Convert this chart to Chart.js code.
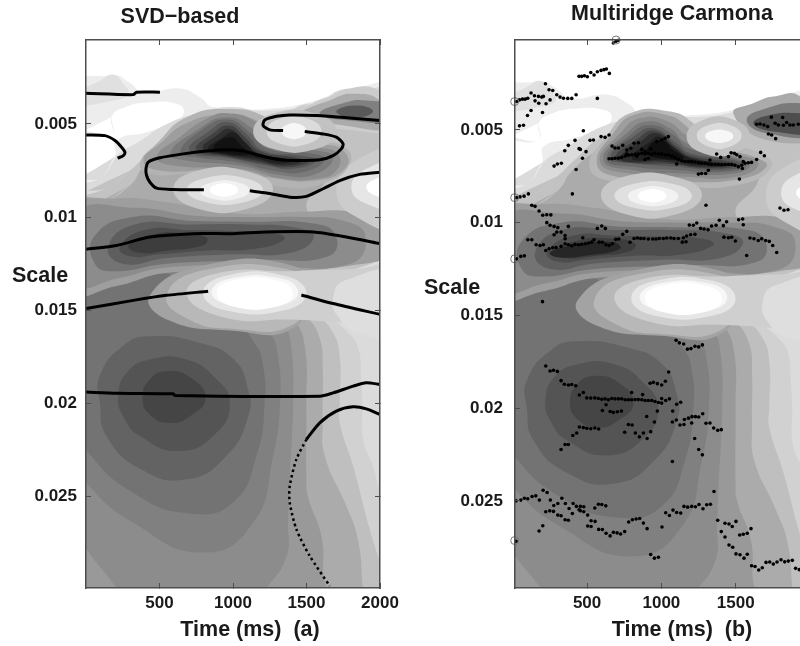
<!DOCTYPE html>
<html>
<head>
<meta charset="utf-8">
<title>SVD-based and Multiridge Carmona ridges</title>
<script src="https://cdn.jsdelivr.net/npm/chart.js@4/dist/chart.umd.js"></script>
<style>
  html, body { margin: 0; background: #fff; overflow: hidden; width: 800px; height: 646px; }
  canvas { position: absolute; top: 0; filter: blur(0.6px); }
  .lbl { position: absolute; font: bold 21.5px "Liberation Sans", sans-serif; color: #1a1a1a; white-space: pre; transform: translate(-50%, -50%); filter: blur(0.4px); }
</style>
</head>
<body>
<canvas id="panelA" width="400" height="646" style="left:0"></canvas>
<canvas id="panelB" width="430" height="646" style="left:400px"></canvas>
<div class="lbl" style="left:180px;top:16px">SVD−based</div>
<div class="lbl" style="left:672px;top:13px">Multiridge Carmona</div>
<div class="lbl" style="left:40px;top:275px">Scale</div>
<div class="lbl" style="left:452px;top:287px">Scale</div>
<div class="lbl" style="left:250px;top:629px">Time (ms)  (a)</div>
<div class="lbl" style="left:682px;top:629px">Time (ms)  (b)</div>
<script>
// all pairs are [time in ms, scale x 1000]
const timeTicksA = [500, 1000, 1500, 2000];
const timeTicksB = [500, 1000, 1500];
const scaleTicks = [0.005, 0.01, 0.015, 0.02, 0.025];

// filled contours of the time-scale map, lightest first, level = darkness in %
const fieldLevels = [7, 12, 0, 14, 24, 33, 18, 25, 33, 40, 45, 50, 55, 61, 67, 73, 38, 45, 55, 63, 70, 76, 36, 28, 19, 13, 10, 3, 0, 20, 10, 0];
const fieldContours = [
  [[-100,3.2],[186,2.4],[290,2.75],[390,3.3],[639,3.1],[775,3.57],[865,4.1],[1228,4.2],[1567,3.75],[1771,3.2],[2100,3.3],[2100,31],[-100,31]],
  [[-60,3.4],[95,2.68],[186,2.36],[254,2.85],[288,3.4],[186,3.75],[-60,3.93]],
  [[-60,5.54],[174,5.54],[174,4.64],[254,4.14],[435,3.84],[616,3.93],[666,4.3],[616,4.86],[412,5.45],[208,5.89],[197,6.79],[140,7.15],[-60,7.53]],
  [[-100,8.2],[95,7.9],[210,6.7],[370,5.9],[550,5],[780,4.4],[975,4.1],[1230,4.3],[1570,3.9],[1771,3.4],[2100,3.6],[2100,31],[-100,31]],
  [[-100,9],[150,8.4],[300,7.5],[420,6.6],[600,5.4],[950,4.5],[1350,4.8],[1750,4.3],[2100,4.5],[2100,12],[-100,12]],
  [[-100,10],[100,9.3],[300,8.3],[400,7.2],[600,6],[950,5],[1400,5.8],[1650,6.5],[1650,7.8],[1500,9.5],[1700,10.5],[2100,11],[2100,12],[-100,12]],
  [[-200,11],[1300,12],[1600,15],[1771,16.1],[1850,17],[1870,18.5],[1880,20],[1884,21.9],[1952,23.36],[2000,24.6],[2150,26.5],[2150,31],[-200,31]],
  [[-200,11],[1300,12.5],[1550,15],[1680,16.2],[1726,17.5],[1726,20],[1726,21.04],[1817,23.36],[1930,26.75],[2000,28.5],[2100,31],[-200,31]],
  [[-200,11],[1250,13],[1500,15.3],[1590,16.5],[1610,18],[1610,21],[1624,22.8],[1771,25.5],[1850,27.3],[1884,29.9],[1900,31],[-200,31]],
  [[-200,11],[1200,13],[1420,15.5],[1490,17],[1499,20],[1499,24],[1510,25],[1601,27.1],[1613,29],[1613,31],[-200,31]],
  [[-200,11],[1150,13],[1350,15.7],[1400,17.2],[1409,20],[1400,22],[1386,24],[1375,26.4],[1364,28.2],[1228,29.9],[1100,31],[300,31],[208,29.9],[0,27.8],[-200,25.5]],
  [[-100,11],[900,13],[1250,16.2],[1307,17.5],[1320,20],[1273,22.8],[1137,26.4],[797,28],[322,26.4],[0,24.25],[-200,22]],
  [[-100,12],[900,14.5],[1150,16.8],[1205,18],[1215,20],[1160,22.8],[1001,25.3],[707,25.9],[322,24.8],[0,22.5],[-200,20]],
  [[95,20],[95,18.5],[254,16.9],[435,16.4],[775,16.75],[1001,17.6],[1103,19.25],[1103,20.7],[956,22.8],[684,24.07],[367,23.5],[140,21.75]],
  [[220,19.6],[276,18.36],[435,17.64],[684,17.64],[888,18.7],[978,20],[888,21.57],[639,22.55],[367,21.75],[254,20.7]],
  [[385,19.7],[435,18.7],[548,18.27],[707,18.6],[813,19.7],[707,20.68],[571,21.04],[435,20.6]],
  [[-100,9.5],[208,9],[548,9.2],[1000,9.8],[1500,9.7],[1800,9.7],[2100,10.3],[2100,11.8],[1800,12.6],[1200,12.9],[548,13],[208,13.7],[-100,14]],
  [[-50,9.8],[322,9.5],[700,9.9],[1100,10],[1500,10],[1750,10.2],[1900,11],[1800,12.5],[1200,12.6],[550,12.7],[208,13.3],[-50,13.6]],
  [[60,11],[322,10],[700,10.2],[1100,10.25],[1550,10.35],[1700,11],[1650,12.1],[1200,12.3],[550,12.5],[200,12.9],[60,12.5]],
  [[150,11.6],[330,10.4],[700,10.4],[1100,10.4],[1450,10.6],[1550,11.1],[1400,11.9],[1000,12],[550,12.2],[250,12.5]],
  [[230,11.6],[400,10.7],[700,10.7],[1000,10.75],[1300,10.9],[1350,11.2],[1150,11.7],[800,11.8],[500,12],[300,12.1]],
  [[290,11.5],[450,10.95],[650,10.85],[820,11.1],[800,11.5],[550,11.8],[350,11.9]],
  [[435,14.2],[800,12.6],[1400,12.6],[1500,14],[1400,16],[1000,16.1],[550,15.5]],
  [[548,14.2],[800,12.85],[1400,12.85],[1500,14],[1400,15.8],[1000,16],[700,15.5]],
  [[684,14.1],[900,13],[1400,12.9],[1800,12.8],[2150,12.8],[2150,15.9],[1800,15.7],[1400,15.5],[950,15.4]],
  [[1680,14.4],[1760,13.4],[2150,13.1],[2150,16.3],[1850,16.2],[1720,15.4]],
  [[797,14.07],[950,13.15],[1350,13.15],[1499,14.1],[1350,15],[950,15]],
  [[854,14.05],[980,13.3],[1330,13.3],[1443,14.05],[1330,14.7],[980,14.7]],
  [[888,14.05],[1000,13.4],[1300,13.4],[1409,14.1],[1300,14.8],[1000,14.8]],
  [[1703,8.57],[1839,6.96],[2130,6.61],[2130,10.5],[1839,10]],
  [[1805,8.4],[1907,7.41],[2130,7.14],[2130,9.46],[1907,9.29]],
  [[1907,8.39],[2000,7.86],[2130,7.68],[2130,8.93],[2000,8.93]]
];

// dark blob, tail and bright spot near the top, they differ per panel
const upperLevelsA = [20, 33, 50, 65, 30, 38, 45, 52, 59, 66, 74, 82, 88, 93, 24, 14, 3];
const upperContoursA = [
  [[1409,4.29],[1590,3.75],[1771,3.12],[2000,3.21],[2130,4.46],[2130,5.36],[1726,5.27],[1454,5]],
  [[1454,4.55],[1681,3.66],[1817,3.39],[2000,3.75],[2130,5.18],[1681,5]],
  [[1590,4.46],[1771,3.84],[1907,3.75],[2130,4.1],[2130,4.82],[1794,4.82]],
  [[1703,4.37],[1817,4.02],[1952,4.29],[1862,4.64]],
  [[367,7.14],[480,6.07],[684,4.64],[978,4.2],[1228,4.64],[1341,5.45],[1567,5.89],[1760,6.25],[1794,7.14],[1635,8.13],[1341,8.39],[1001,7.5],[684,7.68],[435,7.68]],
  [[390,6.96],[503,6.07],[684,4.96],[956,4.52],[1205,4.96],[1296,5.7],[1590,6.07],[1749,6.43],[1771,7.32],[1567,8.04],[1228,7.86],[888,7.5],[503,7.5]],
  [[480,6.79],[639,5.71],[820,4.73],[967,4.43],[1160,4.91],[1284,5.89],[1567,6.25],[1714,6.61],[1703,7.5],[1567,7.95],[1341,7.95],[1046,7.41],[593,7.23]],
  [[571,6.6],[752,5.36],[956,4.64],[1137,5.27],[1273,6.25],[1567,6.43],[1681,6.79],[1567,7.68],[1341,7.77],[1046,7.23],[684,6.96]],
  [[639,6.52],[797,5.27],[967,4.77],[1114,5.45],[1239,6.34],[1522,6.57],[1624,6.88],[1499,7.54],[1296,7.54],[1024,7.05],[752,6.79]],
  [[707,6.43],[843,5.36],[967,4.91],[1092,5.54],[1205,6.43],[1454,6.7],[1567,6.96],[1409,7.41],[1228,7.23],[1001,6.88]],
  [[752,6.39],[865,5.5],[974,5.09],[1080,5.71],[1182,6.46],[1409,6.79],[1522,7],[1375,7.32],[1194,7.11],[978,6.79]],
  [[797,6.34],[888,5.63],[978,5.27],[1069,5.89],[1160,6.52],[1364,6.88],[1465,7.05],[1341,7.23],[1160,6.96],[956,6.7]],
  [[831,6.37],[933,5.71],[1001,5.45],[1092,6.07],[1171,6.61],[1341,6.84],[1409,7],[1296,7.11],[1137,6.82],[956,6.66]],
  [[865,6.34],[978,5.71],[1069,6.25],[1114,6.61],[978,6.61]],
  [[1137,5.4],[1270,4.46],[1570,4.46],[1703,5.4],[1570,6.34],[1270,6.34]],
  [[1228,5.4],[1320,4.73],[1510,4.73],[1601,5.4],[1510,6.07],[1320,6.07]],
  [[1330,5.4],[1370,5.04],[1460,5.04],[1499,5.4],[1460,5.75],[1370,5.75]]
];
const upperLevelsB = [85, 33, 52, 70, 28, 38, 45, 52, 59, 66, 74, 82, 88, 94, 24, 14, 3];
const upperContoursB = [
  [[251,11.59],[408,11.23],[677,11.05],[722,11.41],[498,11.77],[298,11.86]],
  [[1484,4.1],[1619,3.56],[1753,3.2],[1933,3.2],[2067,5.18],[1708,5.54]],
  [[1574,4.46],[1708,3.83],[1933,3.56],[2067,3.92],[2067,5.18],[1708,5.18]],
  [[1619,4.64],[1731,4.19],[1933,4.1],[2067,4.28],[2067,5.09],[1753,5.09]],
  [[516,7],[632,5.36],[789,4.1],[1058,4.01],[1215,4.64],[1305,5.54],[1641,6.17],[1742,6.99],[1507,7.98],[1036,7.98],[677,7.8]],
  [[565,6.8],[677,5.18],[812,4.19],[1036,4.19],[1170,4.82],[1260,5.72],[1619,6.44],[1708,6.99],[1484,7.71],[1036,7.71],[700,7.53]],
  [[587,6.71],[722,5.18],[856,4.37],[1047,4.55],[1182,5.36],[1484,6.26],[1652,6.81],[1507,7.53],[1148,7.53],[789,7.35]],
  [[610,6.62],[767,5.18],[901,4.55],[1058,4.91],[1170,5.72],[1484,6.44],[1596,6.9],[1484,7.35],[1148,7.35],[812,7.17]],
  [[632,6.59],[789,5.27],[924,4.73],[1081,5.27],[1182,5.99],[1484,6.53],[1574,6.9],[1439,7.26],[1125,7.17],[812,6.99]],
  [[655,6.53],[812,5.36],[946,4.91],[1103,5.72],[1193,6.26],[1484,6.62],[1552,6.9],[1395,7.17],[1103,6.99],[812,6.8]],
  [[688,6.48],[834,5.51],[957,5.04],[1103,5.9],[1204,6.41],[1462,6.71],[1518,6.9],[1327,7.08],[1058,6.84],[789,6.77]],
  [[722,6.44],[857,5.63],[969,5.18],[1103,6.08],[1215,6.53],[1439,6.8],[1484,6.9],[1260,6.99],[1013,6.71],[767,6.71]],
  [[812,6.3],[924,5.63],[980,5.36],[1092,5.99],[1182,6.48],[1350,6.77],[1260,6.9],[1036,6.62],[812,6.62]],
  [[901,6.17],[991,5.54],[1081,6.08],[1148,6.53],[991,6.53]],
  [[1170,5.36],[1280,4.46],[1490,4.46],[1596,5.36],[1490,6.26],[1280,6.26]],
  [[1238,5.3],[1320,4.73],[1460,4.73],[1540,5.3],[1460,5.9],[1320,5.9]],
  [[1294,5.33],[1340,5.04],[1440,5.04],[1484,5.33],[1440,5.63],[1340,5.63]]
];

// bright spot under the dark blob, painted last so it bites into it
const brightLevels = [22, 12, 5, 0];
const brightContours = [
  [[593,8.5],[760,7.5],[1100,7.55],[1273,8.5],[1100,9.55],[760,9.55]],
  [[684,8.55],[815,7.9],[1075,7.9],[1205,8.55],[1075,9.2],[815,9.2]],
  [[775,8.58],[860,8.13],[1030,8.13],[1114,8.58],[1030,9.02],[860,9.02]],
  [[843,8.55],[890,8.25],[990,8.25],[1035,8.55],[990,8.84],[890,8.84]]
];

// panel (a) ridges
const ridgesA = [
  [[0,3.36],[322,3.43],[344,3.3],[503,3.3]],
  [[0,5.59],[129,5.63],[197,5.89],[242,6.25],[265,6.52],[254,6.7],[215,6.84]],
  [[802,8.54],[593,8.52],[480,8.45],[435,8.13],[412,7.77],[408,7.41],[424,7.05],[503,6.82],[661,6.61],[820,6.46],[956,6.39],[1069,6.46],[1182,6.7],[1318,6.93],[1454,6.96],[1590,6.93],[1681,6.7],[1737,6.34],[1749,6.07],[1703,5.71],[1613,5.54],[1488,5.41]],
  [[1341,5.36],[1250,5.32],[1205,5.09],[1216,4.79],[1296,4.59],[1386,4.52],[1567,4.55],[1794,4.68],[2000,4.82]],
  [[1114,8.59],[1228,8.71],[1386,8.93],[1499,8.89],[1613,8.48],[1726,8.04],[1862,7.71],[2000,7.59]],
  [[0,11.73],[208,11.52],[435,11.07],[729,10.89],[1001,10.89],[1228,10.8],[1545,10.8],[1771,11.07],[2000,11.43]],
  [[0,14.91],[322,14.47],[548,14.2],[831,13.98]],
  [[1465,14.18],[1681,14.64],[2000,15.22]],
  [[0,19.39],[208,19.45],[593,19.48],[605,19.57],[1590,19.61],[1681,19.43],[1817,19.07],[1907,18.89],[2000,18.98]],
  [[2000,20.59],[1907,20.29],[1817,20.18],[1703,20.41],[1590,21.04],[1499,21.93]]
];
const dottedRidgeA = [[1499,21.93],[1431,23],[1386,24.43],[1386,25.32],[1431,26.75],[1522,28.18],[1658,29.79]];

// panel (b) ridge points
const edgeCirclesB = [[13,3.47],[13,8.65],[13,11.95],[695,0.15],[13,27.14]];
const pointsTopB = [[677,0.31],[695,0.22],[711,0.16],[446,2.11],[464,2.11],[482,2.08],[502,2.13],[525,1.9],[547,2.04],[569,1.86],[594,1.79],[614,1.75],[630,1.71],[650,1.95],
  [27,3.47],[45,3.38],[65,3.34],[83,3.34],[101,3.29],[123,3.01],[146,3.16],[150,3.43],[173,3.19],[175,3.56],[195,3.23],[206,3.19],[224,3.59],[251,3.38],[200,4.06],[123,3.95],[99,4.22],[220,2.51],[244,2.83],[269,2.87],[296,3.1],[318,3.23],[341,3.29],[370,3.3],[397,3.3],[426,3.1],[569,3.3],[45,4.78],[72,4.75],
  [278,6.95],[300,6.84],[327,6.8],[350,6.12],[374,5.83],[419,5.56],[426,7.13],[446,6.01],[455,6.05],[469,6.53],[475,5.04],[493,6.17],[520,5.56],[543,5.54],[594,5.36],[621,5.4],[648,5.27]];
const pointsBlobB = [[648,6.55],[668,6.55],[688,6.53],[711,6.52],[733,6.48],[756,6.41],[778,6.37],[800,6.34],[823,6.32],[845,6.3],[868,6.26],[890,6.3],[912,6.26],[935,6.32],[957,6.26],[980,6.3],[1002,6.3],[1025,6.34],[1047,6.35],[1069,6.41],[1092,6.48],[1114,6.59],[1137,6.66],[1159,6.7],[1182,6.7],[1204,6.71],[1226,6.73],[1249,6.77],[1271,6.79],[1294,6.8],[1316,6.84],[1338,6.86],[1361,6.86],[1383,6.86],[1406,6.88],[1428,6.86],[1451,6.86],[1473,6.86],[1495,6.9],[1518,6.99],[1540,6.9],[1563,6.8],[1585,6.77],[1607,6.75],[1641,6.59],[1668,6.21],[1693,6.39],
  [668,5.87],[688,5.97],[711,5.97],[740,5.83],[767,6.08],[794,5.99],[816,5.72],[845,5.69],[868,6.05],[890,6.17],[912,6.53],[969,5.63],[1002,5.54],[1025,5.45],[1047,5.36],[767,6.3],[834,6.41],[890,6.59],[928,6.03],[1103,6.84],[1249,7.38],[1271,7.35],[1298,7.35],[1316,7.17],[1327,6.62],[1372,6.3],[1399,6.48],[1451,6.44],[1469,6.23],[1491,6.26],[1507,6.34],[1529,6.44],[1551,6.71],[1545,7.08],[1525,7.65],[1300,9.06],
  [1641,4.69],[1664,4.68],[1690,4.73],[1715,4.82],[1740,4.31],[1765,4.64],[1787,4.73],[1816,4.33],[1821,4.75],[1843,4.6],[1865,4.73],[1888,4.73],[1921,4.69],[1720,5.22],[1742,5.27],[1769,5.47],[1798,9.21],[1825,9.33],[1852,9.3]];
const pointsMidB = [[27,8.65],[49,8.61],[76,8.57],[105,8.45],[128,9.06],[150,9.12],[177,9.37],[202,9.6],[229,9.57],[256,9.58],[401,8.45],[229,10],[251,10.14],[278,10.2],[303,10.27],[296,10.51],[325,10.51],[278,10.65],[352,10.69],[352,10.87],[374,10.2],[569,10.31],[599,10.18],[623,10.31],
  [101,10.92],[128,10.92],[157,11.19],[184,11.23],[206,11.19],[27,11.95],[54,11.82],[78,11.79],[222,11.5],[244,11.41],[269,11.35],[291,11.34],[325,11.28],
  [352,11.14],[374,11.19],[397,11.25],[419,11.17],[442,11.19],[464,11.16],[487,11.14],[509,11.1],[531,11.05],[547,10.92],[581,11.05],[603,11.06],[626,11.19],[648,11.23],[670,11.14],[693,10.9],[713,10.88],[740,10.63],[767,10.47],[789,11.06],[816,10.85],[839,10.83],[861,10.85],[883,10.85],[912,10.88],[942,10.88],[964,10.88],[986,10.85],[1013,10.85],[1036,10.83],[1063,10.83],[1085,10.85],[1114,10.85],[1141,11.05],[1166,11.03],[1148,10.81],[1170,10.72],[1197,10.65],[1226,10.63],[471,10.81],
  [1188,10.13],[1215,10.14],[1238,10.02],[1264,10.31],[1287,10.34],[1314,10.38],[1338,10.18],[1368,10.14],[1390,9.87],[1417,10.16],[1439,9.95],[1520,9.84],[1547,9.8],[1551,10.11],[1421,10.78],[1451,10.81],[1473,10.79],[1498,10.99],[1596,10.83],[1623,10.87],[1652,10.96],[1675,10.87],[1702,10.96],[1726,11.01],[1749,11.23],[1776,11.61],[1574,11.77],[200,14.26]];
const pointsLobeB = [[222,17.73],[251,18],[274,17.96],[300,18.02],[325,18.52],[347,18.71],[374,18.75],[397,18.73],[424,18.8],[448,19.29],[475,19.16],[498,19.45],[525,19.46],[552,19.45],[576,19.48],[599,19.52],[621,19.5],[643,19.55],[666,19.48],[688,19.5],[711,19.5],[733,19.5],[756,19.55],[778,19.55],[800,19.55],[823,19.54],[845,19.54],[868,19.55],[890,19.59],[912,19.59],[935,19.59],[957,19.64],[980,19.7],[1002,19.73],
  [628,19.82],[603,20.13],[655,20.18],[677,20.23],[704,20.2],[731,20.16],[800,19.16],[874,19.27],[924,18.66],[946,18.61],[973,18.68],[1002,18.75],[1027,18.55],[1049,18.05],[1002,19.48],[1029,19.59],[1054,19.5],[1103,19.79],[1130,19.68],[1099,16.34],[1121,16.48],[1150,16.54],[1175,16.82],[1199,16.79],[1226,16.66],[1251,16.7],[1276,16.59],
  [901,20.45],[953,20.75],[973,20.16],[1076,20.16],[1074,20.75],[1101,20.64],[1125,20.91],[1152,20.88],[1155,20.61],[1182,20.54],[1204,20.8],[1206,20.46],[1229,20.46],[1251,20.48],[1278,20.3],[1300,20.82],[1327,20.8],[1352,21.07],[1379,21.2],[1403,21.16],
  [448,21.02],[475,21.05],[498,21.09],[525,21.11],[552,21.07],[578,21.13],[430,21.34],[404,21.48],[374,21.96],[352,21.96],[325,22.23],[753,21.3],[778,20.88],[803,20.91],[825,21.34],[852,21.55],[879,21.34],[904,21.64],[928,21.27],[1224,21.64],[1251,22.23],[1276,22.52],[1074,22.88]];
const pointsBottomB = [[22,25],[54,24.96],[78,24.86],[101,24.89],[130,24.77],[155,24.73],[179,24.96],[204,24.43],[231,24.55],[253,24.96],[276,25.25],[303,25.14],[330,24.86],[354,25.14],[379,25.41],[401,25.68],[406,25.14],[428,25.3],[446,25.48],[455,25.3],[478,25.32],[222,25.59],[249,25.54],[274,25.57],[303,25.77],[325,25.8],[352,26.02],[374,26.05],[455,25.54],[478,25.59],[504,25.77],[527,26.07],[554,26.11],[552,25.39],[576,25.18],[599,25.2],[626,25.27],
  [504,26.36],[527,26.38],[578,26.54],[603,26.55],[628,26.75],[655,26.89],[677,26.7],[702,26.73],[726,26.79],[753,26.66],[780,26.14],[805,26.02],[830,25.98],[854,25.95],[879,26.2],[904,26.5],[1004,26.41],[1029,25.64],[1054,25.79],[1078,25.5],[1103,25.63],[1130,25.66],[1152,25.3],[1177,25.34],[1204,25.3],[1229,25.32],[1253,25.2],[1280,25.43],[1305,25.21],[1330,25.18],[1354,24.5],[177,26.63],[202,26.34],[22,27.18],
  [1379,26.05],[1403,26.66],[1428,26.95],[1428,26.21],[1455,26.25],[1477,26.38],[1502,26.11],[1455,27.38],[1480,27.5],[1502,27.86],[1529,27.91],[1556,28.09],[1578,27.88],[1603,26.5],[1578,26.75],[1551,26.8],[1527,26.84],[1607,28.5],[1630,28.54],[1655,28.73],[1679,28.61],[1704,28.32],[1729,28.3],[1753,28.41],[1778,28.3],[1805,28.18],[1830,28.29],[1854,28.25],[1881,28.21],[1903,28.64],[1928,28.71],[928,27.89],[953,28.09],[980,28.04]];

const toPoints = (pairs) => pairs.map(([t, m]) => ({ x: t, y: m / 1000 }));
const levelColor = (level) => {
  const g = Math.round(255 - level * 2.55);
  return `rgb(${g},${g},${g})`;
};

function contourDataset(pairs, level) {
  return {
    // run past the start again so the seam stays round
    data: toPoints(pairs.concat(pairs.slice(0, 3))),
    showLine: true,
    fill: "shape",
    backgroundColor: levelColor(level),
    borderWidth: 0,
    pointRadius: 0,
    tension: 0.5,
    capBezierPoints: false,
  };
}

function lineDataset(pairs, dashed) {
  return {
    data: toPoints(pairs),
    showLine: true,
    fill: false,
    borderColor: "#000",
    borderWidth: dashed ? 2.5 : 3,
    borderDash: dashed ? [2.5, 3] : [],
    pointRadius: 0,
    tension: 0.25,
    capBezierPoints: false,
  };
}

function dotDataset(pairs) {
  return {
    data: toPoints(pairs),
    showLine: false,
    pointRadius: 1.8,
    pointBorderWidth: 0,
    pointBackgroundColor: "#000",
    clip: false,
  };
}

function axisCommon(ticksList) {
  return {
    type: "linear",
    afterBuildTicks: (s) => { s.ticks = ticksList.map((v) => ({ value: v })); },
    border: { display: true, color: "#4d4d4d", width: 1.5, z: 1 },
    grid: { drawOnChartArea: false, drawTicks: true, tickLength: -5, color: "#4d4d4d", lineWidth: 1, z: 1 },
  };
}

// fixed boxes, no room kept for half of the last tick label
function fixBox(s, w, h) {
  if (w !== null) s.width = w;
  if (h !== null) s.height = h;
  s.paddingLeft = s.paddingRight = s.paddingTop = s.paddingBottom = 0;
}

function panelChart(id, cfg) {
  const layers = [];
  fieldContours.forEach((c, i) => layers.push(contourDataset(c, fieldLevels[i])));
  cfg.upperContours.forEach((c, i) => layers.push(contourDataset(c, cfg.upperLevels[i])));
  brightContours.forEach((c, i) => layers.push(contourDataset(c, brightLevels[i])));
  const datasets = layers.concat(cfg.marks);
  // index order decides painting: later arrays go on top
  datasets.forEach((d, i) => { d.order = datasets.length - i; });

  const tickFont = { family: "'Liberation Sans', sans-serif", size: 17, weight: "bold" };
  return new Chart(document.getElementById(id), {
    type: "scatter",
    data: { datasets: datasets },
    options: {
      responsive: false,
      animation: false,
      layout: { padding: { top: 40, right: 20, left: 0, bottom: 0 } },
      plugins: { legend: { display: false }, tooltip: { enabled: false } },
      scales: {
        x: Object.assign(axisCommon(cfg.timeTicks), {
          position: "bottom", min: cfg.timeMin, max: 2000,
          afterFit: (s) => fixBox(s, null, 58),
          ticks: { font: tickFont, color: "#1a1a1a", padding: 10, autoSkip: false, maxRotation: 0, callback: (v) => String(v) },
        }),
        x2: Object.assign(axisCommon(cfg.timeTicks), {
          axis: "x", position: "top", min: cfg.timeMin, max: 2000,
          afterFit: (s) => fixBox(s, null, 0),
          ticks: { display: false },
        }),
        y: Object.assign(axisCommon(scaleTicks), {
          position: "left", reverse: true, min: cfg.scaleMin, max: cfg.scaleMax,
          afterFit: (s) => fixBox(s, cfg.axisWidth, null),
          ticks: { font: tickFont, color: "#1a1a1a", padding: cfg.labelPad, autoSkip: false, callback: (v) => String(v) },
        }),
        y2: Object.assign(axisCommon(scaleTicks), {
          axis: "y", position: "right", reverse: true, min: cfg.scaleMin, max: cfg.scaleMax,
          afterFit: (s) => fixBox(s, 0, null),
          ticks: { display: false },
        }),
      },
    },
  });
}

panelChart("panelA", {
  timeTicks: timeTicksA, timeMin: 0, scaleMin: 0.0005, scaleMax: 0.0299, axisWidth: 86, labelPad: 14,
  upperContours: upperContoursA, upperLevels: upperLevelsA,
  marks: ridgesA.map((r) => lineDataset(r, false)).concat([lineDataset(dottedRidgeA, true)]),
});

panelChart("panelB", {
  timeTicks: timeTicksB, timeMin: 15, scaleMin: 0.00015, scaleMax: 0.0297, axisWidth: 115, labelPad: 17,
  upperContours: upperContoursB, upperLevels: upperLevelsB,
  marks: [pointsTopB, pointsBlobB, pointsMidB, pointsLobeB, pointsBottomB].map(dotDataset).concat([{
    data: toPoints(edgeCirclesB),
    showLine: false,
    pointRadius: 4,
    pointBorderWidth: 1,
    pointBorderColor: "#777",
    pointBackgroundColor: "rgba(0,0,0,0)",
    clip: false,
  }]),
});
</script>
</body>
</html>
